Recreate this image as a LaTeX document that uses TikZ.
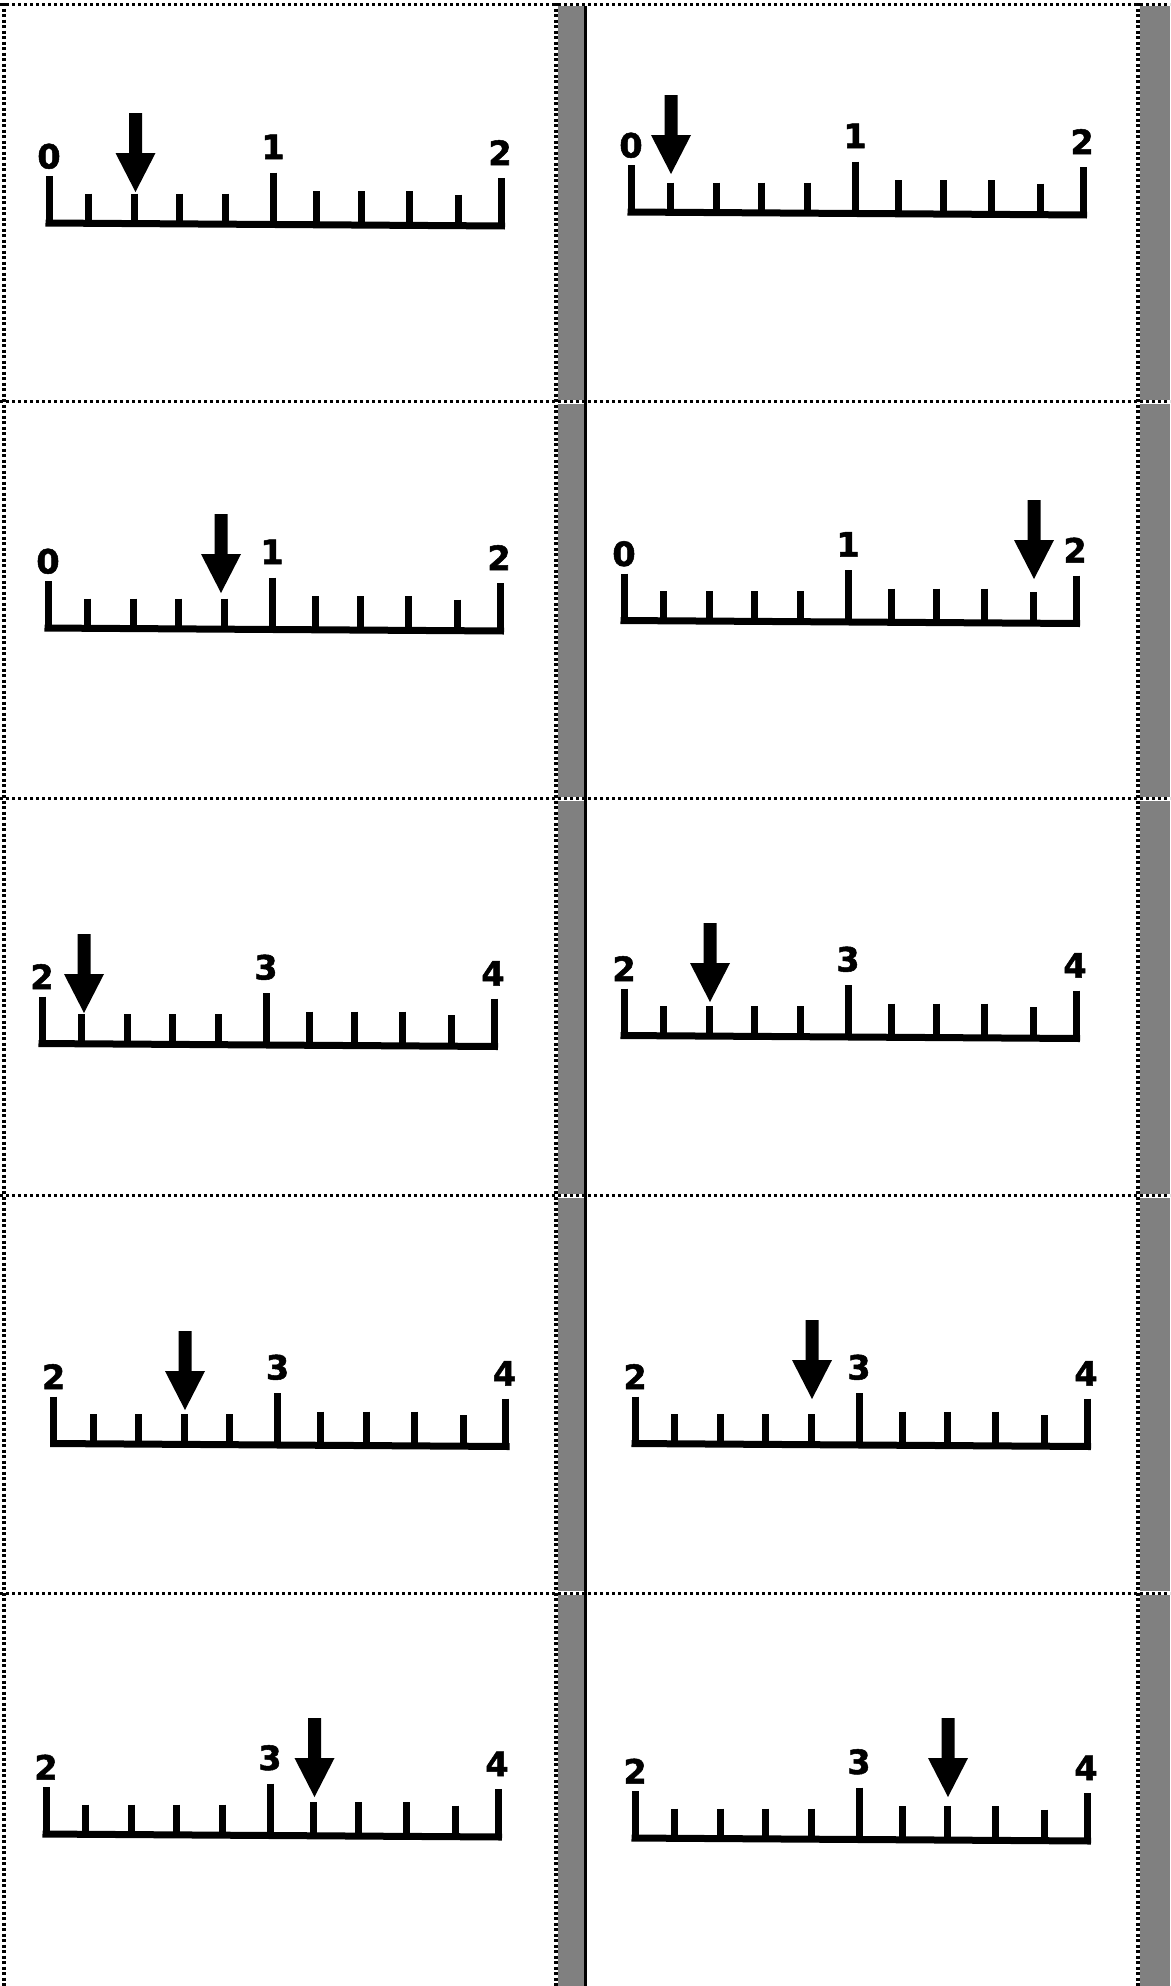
\documentclass[tikz,border=0pt]{standalone}
\usepackage{fontspec}
\newfontfamily\lblfont{DejaVu Sans}[BoldFeatures={FakeBold=1.5}]
\definecolor{stripgray}{HTML}{808080}
\newcommand\drawruler[8]{%
  \begin{scope}[shift={(#2,#3)}]
    \draw[baseln] (-3.5,0) -- (456,3);
    \foreach \tdx/\tty in {0/-47,39.5/-29.5,85/-29.5,130.5/-29.5,176/-29.5,224/-50.5,267/-32,312.5/-32,360.5/-32,409.5/-28.5,452/-45}
      \draw[tickline] (\tdx,\tty) -- (\tdx,{3*\tdx/460});
    \node[lbl] (#1l) at (0,-54.5) {#4};
    \node[lbl] (#1m) at (224,-64) {#5};
    \node[lbl] (#1r) at (451,-58) {#6};
  \end{scope}
  \fill[pointer] ({#7-6.5},{#8-79}) -- ({#7+6.5},{#8-79}) -- ({#7+6.5},{#8-39}) -- ({#7+20},{#8-39}) -- (#7,#8) -- ({#7-20},{#8-39}) -- ({#7-6.5},{#8-39}) -- cycle;
}
\begin{document}
\begin{tikzpicture}[x=1pt,y=-1pt,
  lbl/.style={font=\lblfont\bfseries\fontsize{33.5}{40}\selectfont, anchor=base, inner sep=0pt},
  tickline/.style={line width=7pt},
  baseln/.style={line width=7pt},
  hdots/.style={line width=3pt, dash pattern=on 3.3pt off 2.7pt},
  vdots/.style={line width=4pt, dash pattern=on 3pt off 2.5pt},
  pointer/.style={fill=black}]
\useasboundingbox (0,0) rectangle (1170,1986);
\fill[white] (0,0) rectangle (1170,1986);
% gray strips
\fill[stripgray] (558,6) rectangle (584,1986);
\fill[stripgray] (1140,6) rectangle (1170,1986);
% white breaks under the row dividers
\foreach \yy in {401.5,798.7,1195.9,1593}
  \fill[white] (556,{\yy-2}) rectangle (1170,{\yy+2});
% black separator line
\fill[black] (584,6) rectangle (587,1986);
% dotted borders
\foreach \yy in {4.5,401.5,798.7,1195.9,1593}
  \draw[hdots] (0,\yy) -- (1170,\yy);
\foreach \xx in {4,556,1138}
  \draw[vdots] (\xx,3) -- (\xx,1986);
% rulers
\drawruler{a}{49}{223}{0}{1}{2}{135.5}{192}
\drawruler{b}{631}{212}{0}{1}{2}{671}{174}
\drawruler{c}{48}{628}{0}{1}{2}{221}{593}
\drawruler{d}{624}{620.5}{0}{1}{2}{1034}{579}
\drawruler{e}{42}{1043.5}{2}{3}{4}{84}{1013}
\drawruler{f}{624}{1035.5}{2}{3}{4}{710}{1002}
\drawruler{g}{53.6}{1443.5}{2}{3}{4}{185}{1410}
\drawruler{h}{635}{1443.5}{2}{3}{4}{812}{1399}
\drawruler{i}{46}{1834}{2}{3}{4}{314.5}{1797}
\drawruler{j}{635}{1838}{2}{3}{4}{948}{1797}
\end{tikzpicture}
\end{document}
